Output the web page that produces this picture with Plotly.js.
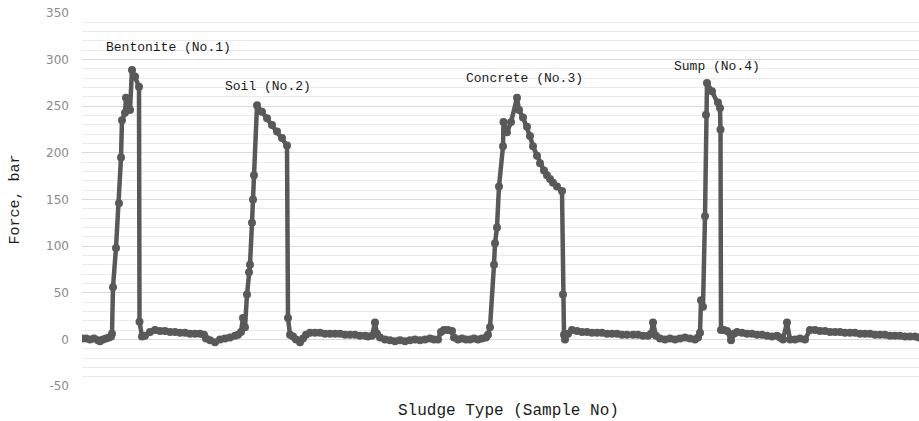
<!DOCTYPE html>
<html>
<head>
<meta charset="utf-8">
<script src="https://cdn.plot.ly/plotly-3.0.1.min.js"></script>
<style>html,body{margin:0;padding:0;background:#fff}#chart{width:919px;height:421px}</style>
</head>
<body>
<div id="chart"></div>
<script>
// Sample position (along the test run) and measured force (bar)
const samplePos = [
  82,86,90,94,98,100,103,106,109,111,112,
  113,116,119,121,122,125,126,130,132,135,139,139.5,142,
  145,150,155,160,165,170,175,180,185,190,195,200,204,206,210,215,220,225,230,235,238,241,243,245,
  247,249,250,252,253,254,257,262,267,272,277,282,287,
  288,290,293,296,300,303,306,310,315,320,325,330,335,340,345,350,355,360,365,368,372,375,377,380,385,390,395,400,405,410,415,420,425,430,434,438,441,444,448,452,454,458,462,466,470,474,478,482,486,488,490,
  494,495,497,499,503,503.5,507,511,517,519,523,527,530,533,537,540,544,547,550,553,557,562,
  563,564,565,568,572,577,582,587,592,597,602,607,612,617,622,627,633,638,643,648,651,653,656,660,665,670,675,680,685,690,695,698,700,
  701,703,705,706,707,712,718,720,720.5,721,724,727,731,734,737,742,747,752,757,762,767,772,777,780,783,787,790,795,800,805,810,815,820,825,830,835,840,845,850,855,860,865,870,875,880,885,890,895,900,905,910,915,919
];
const forceBar = [
  1,1,0,1,-1,-2,0,1,2,3,6,
  56,98,146,195,235,243,259,246,289,282,271,19,3,
  4,8,10,9,9,8,8,7,7,6,6,6,5,1,-1,-3,0,1,2,4,5,8,23,13,
  48,72,80,125,150,176,251,244,237,230,223,216,208,
  23,5,3,0,-3,1,5,7,7,7,6,6,6,6,5,5,5,4,4,3,4,18,6,2,0,-1,-2,-1,-2,-1,0,-1,0,1,0,0,8,10,10,9,2,0,1,0,0,1,0,1,2,5,13,
  80,103,120,164,207,233,222,233,259,246,238,228,218,207,197,189,181,176,172,168,164,159,
  48,5,0,6,10,9,8,8,7,7,7,6,6,6,5,5,5,5,4,4,6,18,4,1,0,1,0,1,2,1,0,2,7,
  42,35,132,241,275,266,254,248,225,10,10,9,-1,6,8,7,6,6,5,5,4,3,4,2,0,18,0,0,1,0,10,10,9,9,8,8,8,7,7,7,6,6,6,5,5,5,4,4,4,3,3,3,2
];
const sampleLabels = ['Bentonite (No.1)', 'Soil (No.2)', 'Concrete (No.3)', 'Sump (No.4)'];
const labelPos = [168, 268, 524, 717];
const labelForce = [313, 271, 280, 293];

const yTicks = [-50, 0, 50, 100, 150, 200, 250, 300, 350];

const annotations = sampleLabels.map((t, i) => ({
  x: labelPos[i], y: labelForce[i], xref: 'x', yref: 'y', text: t, showarrow: false,
  font: {family: 'Liberation Mono, DejaVu Sans Mono, monospace', size: 13, color: '#1a1a1a'}
}));
annotations.push({
  x: 0.51, y: -0.067, xref: 'paper', yref: 'paper', text: 'Sludge Type (Sample No)', showarrow: false,
  yanchor: 'middle', font: {family: 'Liberation Mono, DejaVu Sans Mono, monospace', size: 16, color: '#1a1a1a'}
});
annotations.push({
  x: -0.08, y: 0.5, xref: 'paper', yref: 'paper', text: 'Force, bar', showarrow: false, textangle: -90,
  xanchor: 'center', yanchor: 'middle', font: {family: 'Liberation Mono, DejaVu Sans Mono, monospace', size: 15, color: '#1a1a1a'}
});

const trace = {
  x: samplePos, y: forceBar, type: 'scatter', mode: 'lines+markers',
  line: {color: '#595959', width: 4.5},
  marker: {color: '#595959', size: 8},
  hoverinfo: 'skip'
};

const layout = {
  width: 919, height: 421,
  margin: {l: 82, r: 0, t: 13, b: 35},
  paper_bgcolor: '#ffffff', plot_bgcolor: '#ffffff',
  showlegend: false,
  xaxis: {range: [82, 919], showgrid: false, zeroline: false, showticklabels: false, ticks: '', showline: false},
  yaxis: {
    range: [-50, 350], tickvals: yTicks, ticktext: yTicks.map(String),
    showgrid: true, gridcolor: '#d9d9d9', gridwidth: 1.2, zeroline: false, showline: false, ticks: '',
    ticklabelstandoff: 12,
    tickfont: {family: 'DejaVu Sans, sans-serif', size: 12, color: '#8a8a8a'},
    minor: {dtick: 10, showgrid: true, gridcolor: '#ebebeb', gridwidth: 1}
  },
  annotations: annotations
};

Plotly.newPlot('chart', [trace], layout, {displayModeBar: false, staticPlot: true});
</script>
</body>
</html>
